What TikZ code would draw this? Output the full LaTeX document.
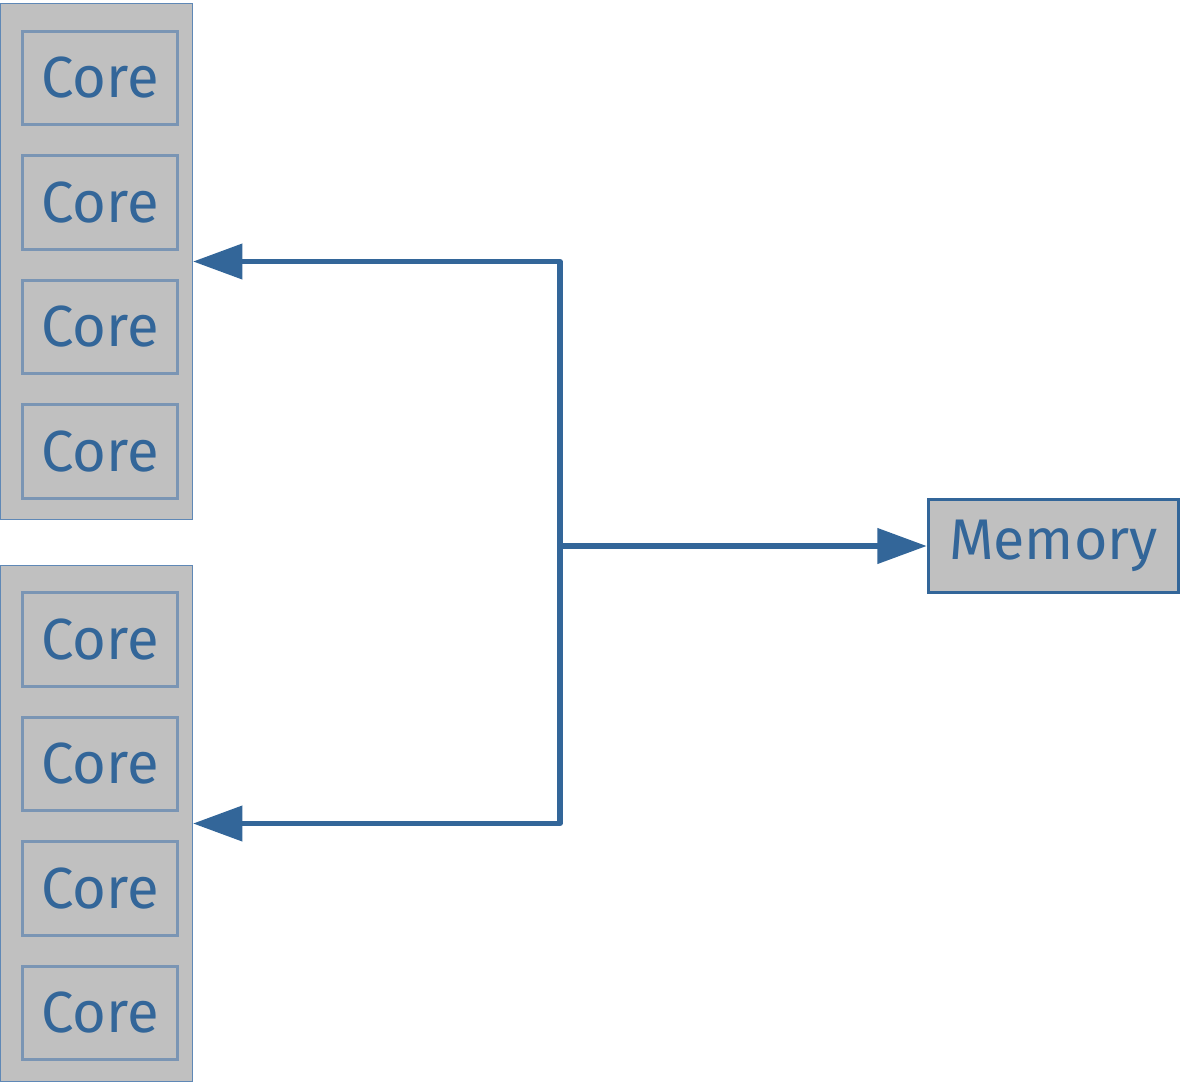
\documentclass[tikz,border=0pt]{standalone}
\usepackage{fontspec}
\setmainfont{Fira Sans}
\usepackage{tikz}
\usetikzlibrary{calc,positioning,arrows.meta}
\definecolor{linkblue}{HTML}{336699}
\definecolor{boxgrey}{HTML}{C0C0C0}
\definecolor{coreedge}{HTML}{7A95B4}
\definecolor{groupedge}{HTML}{5F88B6}
\tikzstyle{group}  = [rectangle, draw=groupedge, fill=boxgrey, line width=0.9pt,
                      minimum width=144pt, minimum height=387pt, inner sep=0pt]
\tikzstyle{core}   = [rectangle, draw=coreedge, fill=boxgrey, line width=2.2pt,
                      minimum width=116.5pt, minimum height=70pt, inner sep=0pt,
                      text=linkblue, font=\fontsize{43.5}{48}\selectfont]
\tikzstyle{mem}    = [rectangle, draw=linkblue, fill=boxgrey, line width=2.2pt,
                      minimum width=188pt, minimum height=70pt, inner sep=0pt,
                      text=linkblue, font=\fontsize{43}{48}\selectfont]
\tikzstyle{link}   = [draw=linkblue, line width=4pt, line join=round,
                      -{Triangle[length=37pt,width=26pt]}]

\begin{document}
\begin{tikzpicture}[x=0.75pt,y=-0.75pt]
        \useasboundingbox (0,0) rectangle (1182,1083);

        \node[group] (top)    at (96.5,261.5) {};
        \node[group] (bottom) at (96.5,823.5) {};

        \foreach \i in {1,...,4} {
            \node[core] (core\i)   at (100,{78+124.5*(\i-1)})  {Core};
            \node[core] (lcore\i)  at (100,{639.5+124.5*(\i-1)}) {Core};
        }

        \node[mem] (memory) at (1053.5,546) {Memory};

        \coordinate (bus) at (560,546);
        \draw[link] (bus) -- (memory.west);
        \draw[link] (bus) |- (top.east);
        \draw[link] (bus) |- (bottom.east);
    \end{tikzpicture}
\end{document}
